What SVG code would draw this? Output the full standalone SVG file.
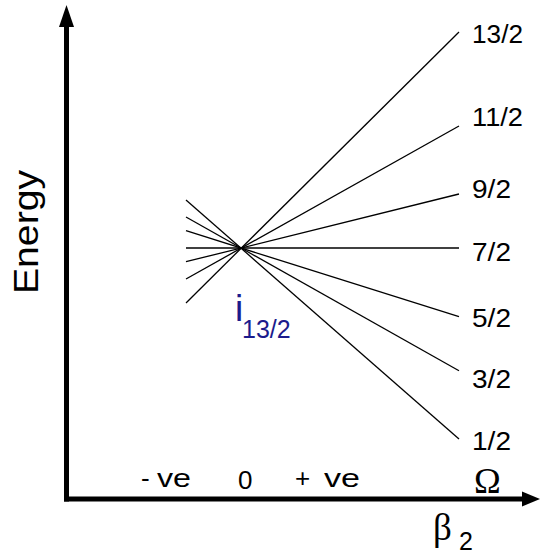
<svg xmlns="http://www.w3.org/2000/svg" width="540" height="554" viewBox="0 0 540 554">
<style>
.lvl{stroke:#000;stroke-width:1.3;fill:none}
.axis{stroke:#000;stroke-width:5;fill:none}
.lab{font-family:"Liberation Sans",Arial,sans-serif;font-size:25px;fill:#000}
.bot{font-family:"Liberation Sans",Arial,sans-serif;font-size:26px;fill:#000}
.serif{font-family:"Liberation Serif","Times New Roman",serif;fill:#000}
</style>
<rect width="540" height="554" fill="#fff"/>
<g id="axes">
<line class="axis" x1="66.5" y1="501.5" x2="66.5" y2="24"/>
<polygon points="66.5,5 59,27 74,27" fill="#000"/>
<line class="axis" x1="64" y1="499" x2="525" y2="499"/>
<polygon points="540,499 522,491.5 522,506.5" fill="#000"/>
</g>
<g id="connectors">
<line class="lvl" x1="186" y1="303" x2="459" y2="32"/>
<line class="lvl" x1="186" y1="279" x2="459" y2="126"/>
<line class="lvl" x1="186" y1="261.7" x2="459" y2="194"/>
<line class="lvl" x1="186" y1="248" x2="459" y2="248"/>
<line class="lvl" x1="186" y1="230.7" x2="459" y2="316.7"/>
<line class="lvl" x1="186" y1="217" x2="459" y2="370.7"/>
<line class="lvl" x1="186" y1="200" x2="459" y2="439"/>
</g>
<g id="labels">
<text class="lab" x="472" y="43" textLength="51" lengthAdjust="spacingAndGlyphs">13/2</text>
<text class="lab" x="472" y="126" textLength="51" lengthAdjust="spacingAndGlyphs">11/2</text>
<text class="lab" x="472" y="198" textLength="39" lengthAdjust="spacingAndGlyphs">9/2</text>
<text class="lab" x="472" y="261" textLength="39" lengthAdjust="spacingAndGlyphs">7/2</text>
<text class="lab" x="472" y="327" textLength="39" lengthAdjust="spacingAndGlyphs">5/2</text>
<text class="lab" x="472" y="388" textLength="39" lengthAdjust="spacingAndGlyphs">3/2</text>
<text class="lab" x="472" y="450" textLength="39" lengthAdjust="spacingAndGlyphs">1/2</text>
<text class="bot" y="487"><tspan x="141">-</tspan><tspan x="157" textLength="34" lengthAdjust="spacingAndGlyphs">ve</tspan></text>
<text class="bot" x="238" y="489">0</text>
<text class="bot" y="487"><tspan x="295">+</tspan><tspan x="324" textLength="36" lengthAdjust="spacingAndGlyphs">ve</tspan></text>
<text class="serif" x="474" y="493" font-size="36">Ω</text>
<text class="serif" x="433" y="540" font-size="37">β</text>
<text class="lab" x="459" y="550">2</text>
<text font-family="Liberation Sans,Arial,sans-serif" font-size="37" fill="#1b1b8c" x="235" y="321">i</text>
<text font-family="Liberation Sans,Arial,sans-serif" font-size="25" fill="#1b1b8c" x="242" y="338">13/2</text>
<text font-family="Liberation Sans,Arial,sans-serif" font-size="35" fill="#000" transform="translate(38,294) rotate(-90)" textLength="124" lengthAdjust="spacingAndGlyphs">Energy</text>
</g>
</svg>
